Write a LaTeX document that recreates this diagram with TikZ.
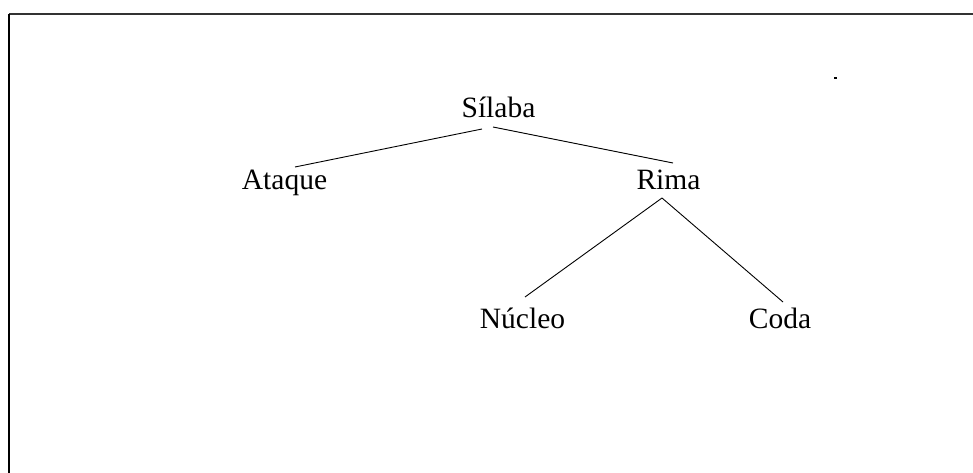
\documentclass[tikz,border=0pt]{standalone}
\usepackage{fontspec}
\setmainfont{Liberation Serif}
\begin{document}
\begin{tikzpicture}[x=1pt,y=-1pt,
  lbl/.style={anchor=base,inner sep=0pt,font=\fontsize{29.5}{31}\selectfont},
  edge/.style={line width=0.9pt,black}]
\useasboundingbox (0,0) rectangle (973,473);
\draw[line width=2pt,black!80] (973,14) -- (9,14);
\draw[line width=2.2pt,black] (9,14) -- (9,473);
\node[lbl] (s) at (498.5,118) {Sílaba};
\node[lbl] (a) at (284.5,189) {Ataque};
\node[lbl] (r) at (668.5,189) {Rima};
\node[lbl] (n) at (522.5,328) {Núcleo};
\node[lbl] (c) at (780,328) {Coda};
\draw[edge] ([shift={(-16.5,11)}]s.base) -- ([shift={(10.5,-22)}]a.base);
\draw[edge] ([shift={(-5.5,9)}]s.base) -- ([shift={(4.5,-26)}]r.base);
\draw[edge] ([shift={(-6.5,9)}]r.base) -- ([shift={(2.5,-31)}]n.base);
\draw[edge] ([shift={(-6.5,9)}]r.base) -- ([shift={(3,-26)}]c.base);
\fill[black] (834,77.5) rectangle (836.5,79);
\end{tikzpicture}
\end{document}
